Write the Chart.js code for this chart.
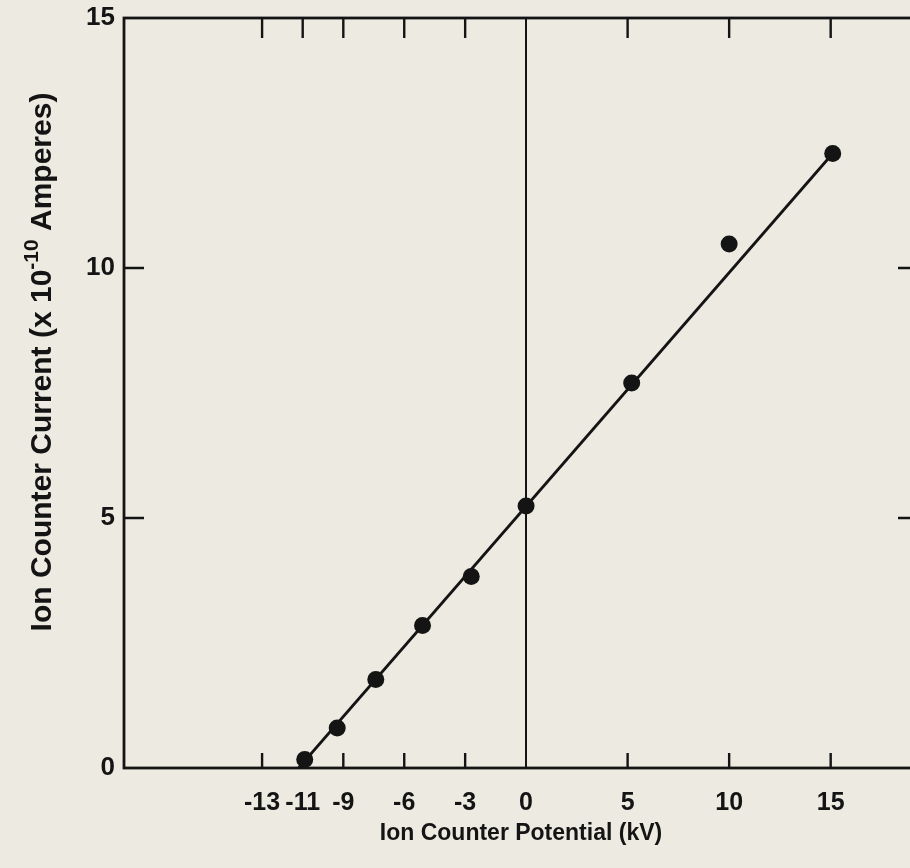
<!DOCTYPE html>
<html>
<head>
<meta charset="utf-8">
<script src="https://cdn.jsdelivr.net/npm/chart.js@4.4.1/dist/chart.umd.min.js"></script>
<style>
  html, body { margin: 0; padding: 0; background: #edebe1; overflow: hidden; }
  #wrap { width: 930px; height: 868px; }
</style>
</head>
<body>
<div id="wrap"><canvas id="ionChart"></canvas></div>
<script>
// measured points
var potentialKV = [-10.9, -9.3, -7.4, -5.1, -2.7, 0, 5.2, 10.0, 15.1];
var currentAmp = [0.17, 0.8, 1.77, 2.85, 3.83, 5.24, 7.7, 10.48, 12.29];

// straight fit drawn through the points
var fitKV = [-11.2, 15.1];
var fitAmp = [0, 12.29];

var xTickValues = [-13, -11, -9, -6, -3, 0, 5, 10, 15];
var yTickValues = [0, 5, 10, 15];

var ink = "#141414";

// frame plus the short inward tick marks
var framePlugin = {
  id: "frame",
  beforeDatasetsDraw: function (chart) {
    var ctx = chart.ctx;
    var a = chart.chartArea;
    var xs = chart.scales.x;
    var ys = chart.scales.y;
    ctx.save();
    ctx.strokeStyle = ink;
    ctx.lineWidth = 2.8;
    ctx.strokeRect(a.left, a.top, a.right - a.left, a.bottom - a.top);
    ctx.lineWidth = 2.4;
    ctx.beginPath();
    xTickValues.forEach(function (v) {
      if (v === 0) return;
      var px = xs.getPixelForValue(v);
      ctx.moveTo(px, a.top);
      ctx.lineTo(px, a.top + 20);
      ctx.moveTo(px, a.bottom);
      ctx.lineTo(px, a.bottom - 15);
    });
    yTickValues.forEach(function (v) {
      if (v === 0 || v === 15) return;
      var py = ys.getPixelForValue(v);
      ctx.moveTo(a.left, py);
      ctx.lineTo(a.left + 20, py);
      ctx.moveTo(a.right, py);
      ctx.lineTo(a.right - 20, py);
    });
    ctx.stroke();
    ctx.restore();
  },
  // y title needs a superscript, so it is written here
  afterDraw: function (chart) {
    var ctx = chart.ctx;
    var big = "bold 30px 'Liberation Sans', Arial, sans-serif";
    var small = "bold 21px 'Liberation Sans', Arial, sans-serif";
    var p1 = "Ion Counter Current (x 10";
    var sup = "-10";
    var p2 = " Amperes)";
    ctx.save();
    ctx.fillStyle = ink;
    ctx.textBaseline = "alphabetic";
    ctx.font = big;
    var w1 = ctx.measureText(p1).width;
    var w3 = ctx.measureText(p2).width;
    ctx.font = small;
    var w2 = ctx.measureText(sup).width;
    var total = w1 + w2 + w3;
    ctx.translate(51, 362);
    ctx.rotate(-Math.PI / 2);
    var x0 = -total / 2;
    ctx.font = big;
    ctx.fillText(p1, x0, 0);
    ctx.font = small;
    ctx.fillText(sup, x0 + w1, -13);
    ctx.font = big;
    ctx.fillText(p2, x0 + w1 + w2, 0);
    ctx.restore();
  }
};

var ionCtx = document.getElementById("ionChart").getContext("2d");
var ionChart = new Chart(ionCtx, {
  type: "scatter",
  data: {
    datasets: [
      {
        label: "Measured",
        data: potentialKV.map(function (v, i) { return { x: v, y: currentAmp[i] }; }),
        pointRadius: 8.5,
        pointBackgroundColor: ink,
        pointBorderWidth: 0,
        clip: false,
        order: 0,
      },
      {
        label: "Fit",
        type: "line",
        data: fitKV.map(function (v, i) { return { x: v, y: fitAmp[i] }; }),
        borderColor: ink,
        borderWidth: 2.8,
        pointRadius: 0,
        fill: false,
        order: 1,
      },
    ],
  },
  options: {
    responsive: true,
    maintainAspectRatio: false,
    animation: false,
    layout: { padding: { top: 18, right: 12, left: 0, bottom: 0 } },
    plugins: {
      legend: { display: false },
      tooltip: { enabled: false },
    },
    scales: {
      x: {
        type: "linear",
        min: -19.8,
        max: 19.3,
        afterBuildTicks: function (scale) {
          scale.ticks = xTickValues.map(function (v) { return { value: v }; });
        },
        afterFit: function (scale) {
          scale.height = 100;
          scale.paddingLeft = 0;
          scale.paddingRight = 0;
        },
        border: { display: false },
        grid: {
          drawTicks: false,
          lineWidth: 2,
          color: function (c) { return c.tick && c.tick.value === 0 ? ink : "rgba(0,0,0,0)"; },
        },
        ticks: {
          padding: 20,
          color: ink,
          maxRotation: 0,
          autoSkip: false,
          font: { family: "'Liberation Sans', Arial, sans-serif", size: 25, weight: "bold" },
        },
        title: {
          display: true,
          text: "Ion Counter Potential (kV)",
          color: ink,
          padding: { top: 0, bottom: 21 },
          font: { family: "'Liberation Sans', Arial, sans-serif", size: 23, weight: "bold" },
        },
      },
      y: {
        min: 0,
        max: 15,
        afterBuildTicks: function (scale) {
          scale.ticks = yTickValues.map(function (v) { return { value: v }; });
        },
        afterFit: function (scale) {
          scale.width = 124;
          scale.paddingTop = 0;
          scale.paddingBottom = 0;
        },
        border: { display: false },
        grid: { display: false, drawTicks: false },
        ticks: {
          padding: 9,
          color: ink,
          font: { family: "'Liberation Sans', Arial, sans-serif", size: 26, weight: "bold" },
        },
      },
    },
  },
  plugins: [framePlugin],
});
</script>
</body>
</html>
